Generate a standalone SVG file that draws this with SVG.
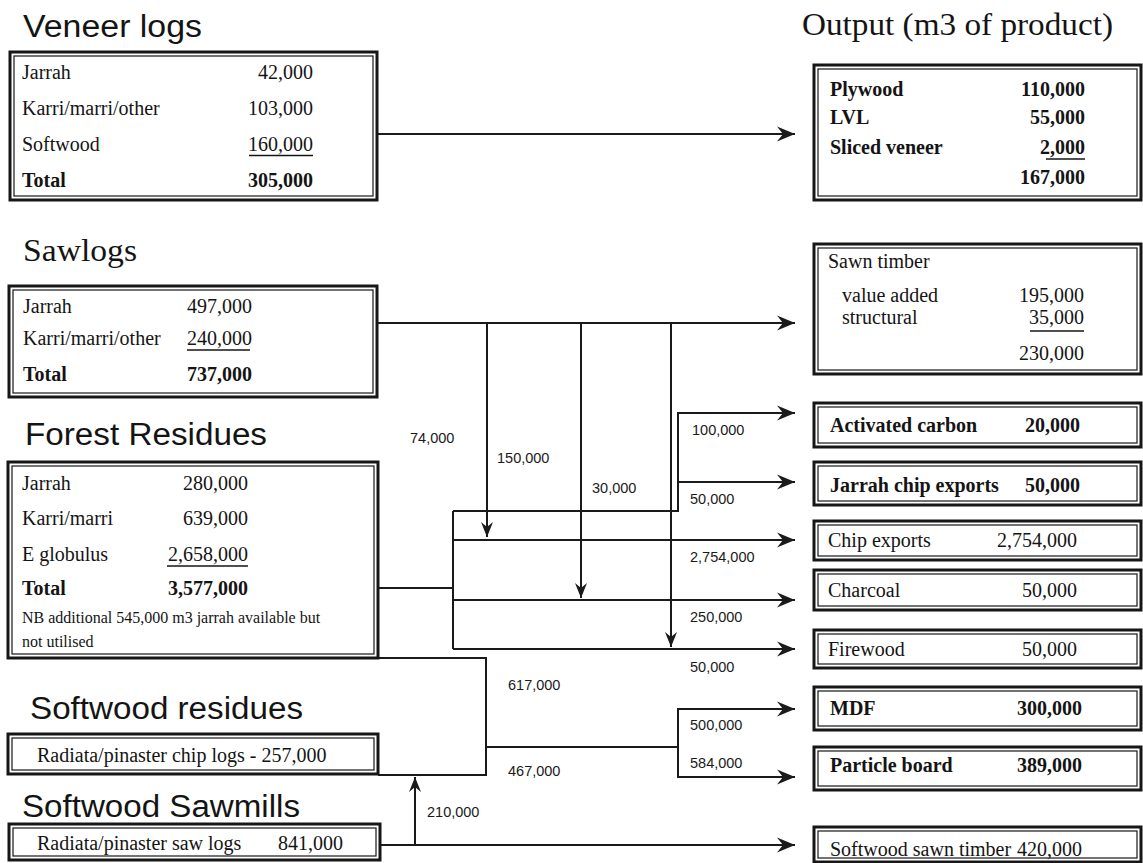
<svg xmlns="http://www.w3.org/2000/svg" width="1143" height="863" viewBox="0 0 1143 863">
<style>
.outer{fill:#fff;stroke:#161616;stroke-width:3}
.inner{fill:none;stroke:#161616;stroke-width:1.2}
.t{font-family:"Liberation Serif","Times New Roman",serif;font-size:20px;fill:#141414}
.b{font-weight:bold}
.sm{font-size:16px}
.e{text-anchor:end}
.ul{stroke:#141414;stroke-width:1.5}
.ts{font-family:"Liberation Sans",Arial,sans-serif;font-size:31px;fill:#141414}
.tr{font-family:"Liberation Serif","Times New Roman",serif;font-size:31px;fill:#141414}
.lab{font-family:"Liberation Sans",Arial,sans-serif;font-size:14.5px;fill:#1a1a1a}
.c{fill:none;stroke:#1a1a1a;stroke-width:2}
.a{marker-end:url(#arr)}
.ad{marker-end:url(#arrs)}
</style>
<defs>
<marker id="arr" markerUnits="userSpaceOnUse" markerWidth="24" markerHeight="20" viewBox="-20 -10 22 20" refX="0" refY="0" orient="auto">
<path d="M0,0 L-18,-7.5 L-12,0 L-18,7.5 Z" fill="#1a1a1a"/>
</marker>
<marker id="arrs" markerUnits="userSpaceOnUse" markerWidth="20" markerHeight="16" viewBox="-16 -8 18 16" refX="0" refY="0" orient="auto">
<path d="M0,0 L-15,-6 L-10,0 L-15,6 Z" fill="#1a1a1a"/>
</marker>
</defs>
<rect width="1143" height="863" fill="#fff"/>

<g id="connectors">
<path class="c a" d="M377,134 H795"/>
<path class="c a" d="M377,323 H795"/>
<path class="c ad" d="M487,323 V537"/>
<path class="c ad" d="M581,323 V598"/>
<path class="c ad" d="M671,323 V647"/>
<path class="c" d="M378,588 H453"/>
<path class="c" d="M453,511 V649"/>
<path class="c a" d="M453,511 H678 V413 H795"/>
<path class="c a" d="M678,482 H795"/>
<path class="c a" d="M453,540 H795"/>
<path class="c a" d="M453,600 H795"/>
<path class="c a" d="M453,649 H795"/>
<path class="c" d="M378,658 H486 V775 H378"/>
<path class="c" d="M486,747 H678"/>
<path class="c a" d="M678,747 V709 H795"/>
<path class="c a" d="M678,747 V777 H795"/>
<path class="c a" d="M380,845 H795"/>
<path class="c ad" d="M415,845 V777"/>
<text class="lab" x="410" y="443">74,000</text>
<text class="lab" x="497" y="463">150,000</text>
<text class="lab" x="592" y="493">30,000</text>
<text class="lab" x="692" y="435">100,000</text>
<text class="lab" x="690" y="504">50,000</text>
<text class="lab" x="690" y="562">2,754,000</text>
<text class="lab" x="690" y="622">250,000</text>
<text class="lab" x="690" y="672">50,000</text>
<text class="lab" x="508" y="690">617,000</text>
<text class="lab" x="690" y="730">500,000</text>
<text class="lab" x="690" y="768">584,000</text>
<text class="lab" x="508" y="776">467,000</text>
<text class="lab" x="427" y="817">210,000</text>
</g>

<g id="veneer-logs">
<text class="ts" x="23" y="37" textLength="179" lengthAdjust="spacingAndGlyphs">Veneer logs</text>
<rect class="outer" x="10" y="52" width="367" height="148"/>
<rect class="inner" x="14" y="56" width="359" height="140"/>
<text class="t" x="22" y="79">Jarrah</text><text class="t e" x="313" y="79">42,000</text>
<text class="t" x="22" y="115">Karri/marri/other</text><text class="t e" x="313" y="115">103,000</text>
<text class="t" x="22" y="151">Softwood</text><text class="t e" x="313" y="151">160,000</text>
<line class="ul" x1="249" y1="155.5" x2="313" y2="155.5"/>
<text class="t b" x="22" y="187">Total</text><text class="t b e" x="313" y="187">305,000</text>
</g>

<g id="sawlogs">
<text class="tr" x="23" y="261" textLength="114" lengthAdjust="spacingAndGlyphs">Sawlogs</text>
<rect class="outer" x="9" y="286" width="368" height="111"/>
<rect class="inner" x="13" y="290" width="360" height="103"/>
<text class="t" x="23" y="313">Jarrah</text><text class="t" x="187" y="313">497,000</text>
<text class="t" x="23" y="345">Karri/marri/other</text><text class="t" x="187" y="345">240,000</text>
<line class="ul" x1="187" y1="350" x2="250" y2="350"/>
<text class="t b" x="23" y="381">Total</text><text class="t b" x="187" y="381">737,000</text>
</g>

<g id="forest-residues">
<text class="ts" x="25" y="445" textLength="242" lengthAdjust="spacingAndGlyphs">Forest Residues</text>
<rect class="outer" x="8" y="462" width="370" height="196"/>
<rect class="inner" x="12" y="466" width="362" height="188"/>
<text class="t" x="22" y="490">Jarrah</text><text class="t e" x="248" y="490">280,000</text>
<text class="t" x="22" y="525">Karri/marri</text><text class="t e" x="248" y="525">639,000</text>
<text class="t" x="22" y="561">E globulus</text><text class="t e" x="248" y="561">2,658,000</text>
<line class="ul" x1="167" y1="566" x2="248" y2="566"/>
<text class="t b" x="22" y="595">Total</text><text class="t b e" x="248" y="595">3,577,000</text>
<text class="t sm" x="22" y="623">NB additional 545,000 m3 jarrah available but</text>
<text class="t sm" x="22" y="647">not utilised</text>
</g>

<g id="softwood-residues">
<text class="ts" x="30" y="719" textLength="273" lengthAdjust="spacingAndGlyphs">Softwood residues</text>
<rect class="outer" x="8" y="734" width="370" height="40"/>
<rect class="inner" x="12" y="738" width="362" height="32"/>
<text class="t" x="37" y="762">Radiata/pinaster chip logs - 257,000</text>
</g>

<g id="softwood-sawmills">
<text class="ts" x="22" y="817" textLength="278" lengthAdjust="spacingAndGlyphs">Softwood Sawmills</text>
<rect class="outer" x="9" y="824" width="371" height="36"/>
<rect class="inner" x="13" y="828" width="363" height="28"/>
<text class="t" x="37" y="850">Radiata/pinaster saw logs</text><text class="t" x="278" y="850">841,000</text>
</g>

<g id="output-veneer">
<text class="tr" x="802" y="35" textLength="311" lengthAdjust="spacingAndGlyphs">Output (m3 of product)</text>
<rect class="outer" x="814" y="65" width="327" height="135"/>
<rect class="inner" x="818" y="69" width="319" height="127"/>
<text class="t b" x="830" y="96">Plywood</text><text class="t b e" x="1085" y="96">110,000</text>
<text class="t b" x="830" y="124">LVL</text><text class="t b e" x="1085" y="124">55,000</text>
<text class="t b" x="830" y="154">Sliced veneer</text><text class="t b e" x="1085" y="154">2,000</text>
<line class="ul" x1="1046" y1="159" x2="1085" y2="159"/>
<text class="t b e" x="1085" y="184">167,000</text>
</g>

<g id="output-sawn">
<rect class="outer" x="814" y="244" width="327" height="130"/>
<rect class="inner" x="818" y="248" width="319" height="122"/>
<text class="t" x="828" y="268">Sawn timber</text>
<text class="t" x="842" y="302">value added</text><text class="t e" x="1084" y="302">195,000</text>
<text class="t" x="842" y="324">structural</text><text class="t e" x="1084" y="324">35,000</text>
<line class="ul" x1="1030" y1="331" x2="1084" y2="331"/>
<text class="t e" x="1084" y="360">230,000</text>
</g>

<g id="activated-carbon">
<rect class="outer" x="814" y="403" width="327" height="44"/>
<rect class="inner" x="818" y="407" width="319" height="36"/>
<text class="t b" x="830" y="432">Activated carbon</text><text class="t b e" x="1080" y="432">20,000</text>
</g>

<g id="jarrah-chip-exports">
<rect class="outer" x="814" y="462" width="327" height="43"/>
<rect class="inner" x="818" y="466" width="319" height="35"/>
<text class="t b" x="830" y="492">Jarrah chip exports</text><text class="t b e" x="1080" y="492">50,000</text>
</g>

<g id="chip-exports">
<rect class="outer" x="814" y="521" width="327" height="39"/>
<rect class="inner" x="818" y="525" width="319" height="31"/>
<text class="t" x="828" y="547">Chip exports</text><text class="t e" x="1077" y="547">2,754,000</text>
</g>

<g id="charcoal">
<rect class="outer" x="814" y="570" width="327" height="40"/>
<rect class="inner" x="818" y="574" width="319" height="32"/>
<text class="t" x="828" y="597">Charcoal</text><text class="t e" x="1077" y="597">50,000</text>
</g>

<g id="firewood">
<rect class="outer" x="814" y="630" width="327" height="38"/>
<rect class="inner" x="818" y="634" width="319" height="30"/>
<text class="t" x="828" y="656">Firewood</text><text class="t e" x="1077" y="656">50,000</text>
</g>

<g id="mdf">
<rect class="outer" x="814" y="687" width="327" height="43"/>
<rect class="inner" x="818" y="691" width="319" height="35"/>
<text class="t b" x="830" y="715">MDF</text><text class="t b e" x="1082" y="715">300,000</text>
</g>

<g id="particle-board">
<rect class="outer" x="814" y="747" width="327" height="43"/>
<rect class="inner" x="818" y="751" width="319" height="35"/>
<text class="t b" x="830" y="772">Particle board</text><text class="t b e" x="1082" y="772">389,000</text>
</g>

<g id="softwood-sawn-timber">
<rect class="outer" x="814" y="827" width="327" height="35"/>
<rect class="inner" x="818" y="831" width="319" height="27"/>
<text class="t" x="830" y="856">Softwood sawn timber</text><text class="t e" x="1082" y="856">420,000</text>
</g>
</svg>
